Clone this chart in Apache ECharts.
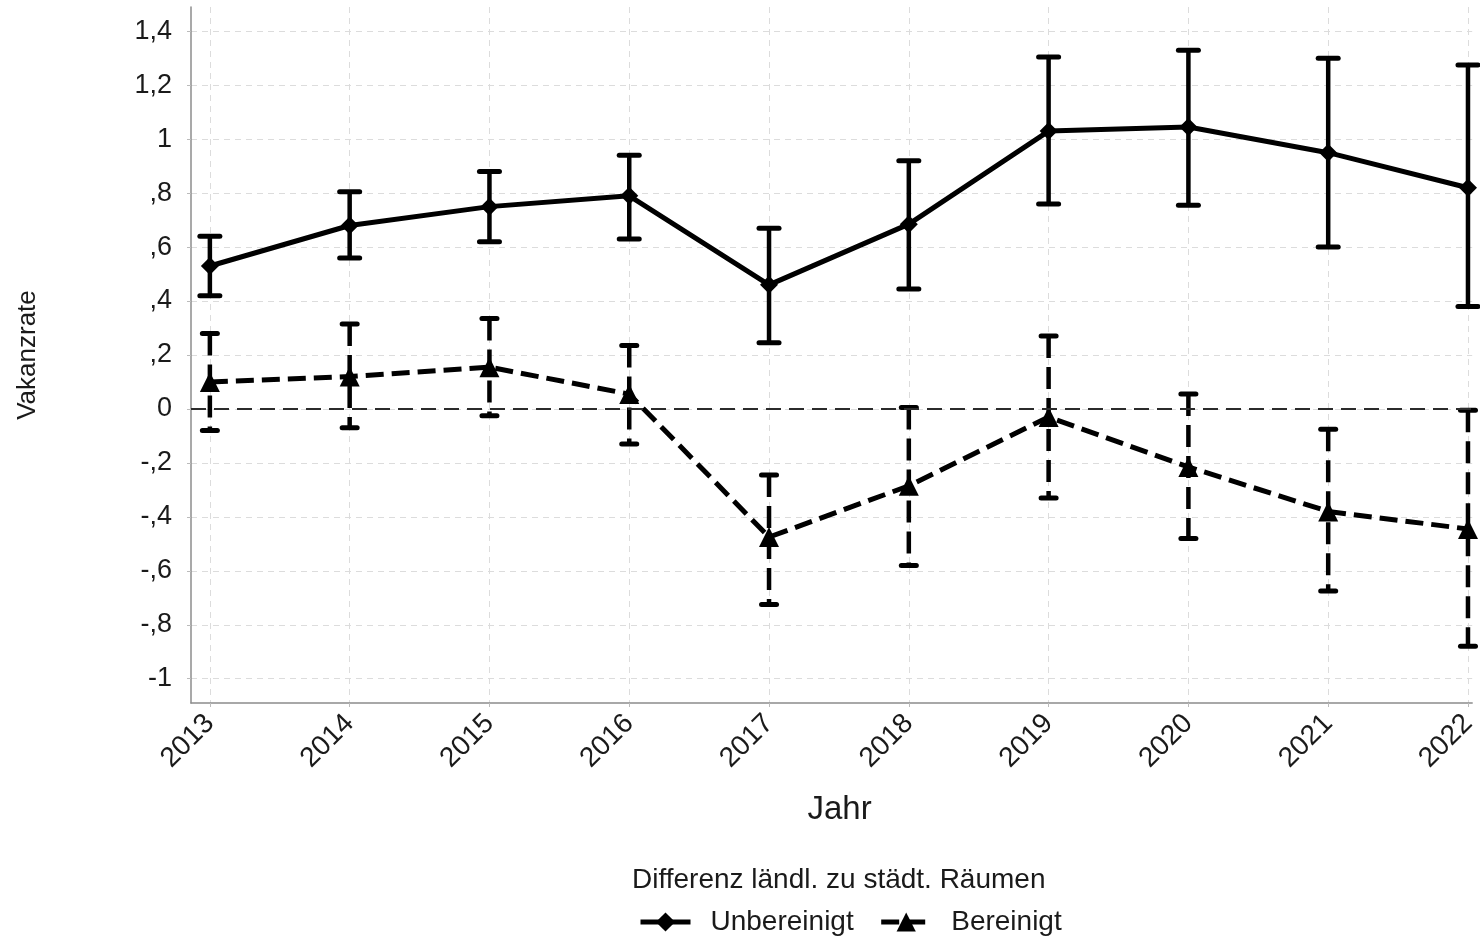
<!DOCTYPE html>
<html>
<head>
<meta charset="utf-8">
<script src="https://cdn.jsdelivr.net/npm/echarts@6/dist/echarts.min.js"></script>
<style>
  html, body { margin: 0; padding: 0; background: #fff; overflow: hidden; }
  #chart { width: 1480px; height: 938px; }
</style>
</head>
<body>
<div id="chart"></div>
<script>
// Years on the x axis
const years = [2013, 2014, 2015, 2016, 2017, 2018, 2019, 2020, 2021, 2022];

// Difference in vacancy rate, rural vs. urban areas (unadjusted)
const unbereinigt     = [0.53, 0.68, 0.75, 0.79, 0.46, 0.685, 1.03, 1.045, 0.95, 0.82];
const unbereinigtLow  = [0.42, 0.56, 0.62, 0.63, 0.245, 0.445, 0.76, 0.755, 0.60, 0.38];
const unbereinigtHigh = [0.64, 0.805, 0.88, 0.94, 0.67, 0.92, 1.305, 1.33, 1.30, 1.275];

// Difference in vacancy rate, rural vs. urban areas (adjusted)
const bereinigt     = [0.10, 0.12, 0.155, 0.055, -0.475, -0.285, -0.03, -0.215, -0.38, -0.445];
const bereinigtLow  = [-0.08, -0.07, -0.025, -0.13, -0.725, -0.58, -0.33, -0.48, -0.675, -0.88];
const bereinigtHigh = [0.28, 0.315, 0.335, 0.235, -0.245, 0.005, 0.27, 0.055, -0.075, -0.005];

// Y tick values and their labels (German decimal style, leading zero dropped)
const yTicks = [-1, -0.8, -0.6, -0.4, -0.2, 0, 0.2, 0.4, 0.6, 0.8, 1, 1.2, 1.4];
const yTickLabels = ['-1', '-,8', '-,6', '-,4', '-,2', '0', ',2', ',4', ',6', ',8', '1', '1,2', '1,4'];

const FONT = 'Liberation Sans, Arial, sans-serif';
const TEXT = '#1a1a1a';

function pairs(xs, ys) { return xs.map((x, i) => [x, ys[i]]); }
function bars(xs, lo, hi) { return xs.map((x, i) => [x, lo[i], hi[i]]); }

// Vertical confidence interval with horizontal caps
function errorBarRenderer(capWidth, dash) {
  return function (params, api) {
    const x = api.value(0);
    const top = api.coord([x, api.value(2)]);
    const bot = api.coord([x, api.value(1)]);
    const style = { stroke: '#000', lineWidth: 4.5, lineDash: dash, lineCap: 'butt' };
    const capStyle = { stroke: '#000', lineWidth: 5, lineCap: 'round' };
    return {
      type: 'group',
      children: [
        { type: 'line', shape: { x1: top[0], y1: top[1], x2: bot[0], y2: bot[1] }, style: style },
        { type: 'line', shape: { x1: top[0] - capWidth / 2, y1: top[1], x2: top[0] + capWidth / 2, y2: top[1] }, style: capStyle },
        { type: 'line', shape: { x1: bot[0] - capWidth / 2, y1: bot[1], x2: bot[0] + capWidth / 2, y2: bot[1] }, style: capStyle }
      ]
    };
  };
}

const chart = echarts.init(document.getElementById('chart'), null, { renderer: 'canvas' });

chart.setOption({
  backgroundColor: '#fff',
  animation: false,
  textStyle: { fontFamily: FONT },
  title: {
    text: 'Differenz ländl. zu städt. Räumen',
    left: 632,
    top: 866,
    padding: 0,
    textStyle: { fontFamily: FONT, fontSize: 28, fontWeight: 'normal', color: TEXT }
  },
  legend: {
    data: ['Unbereinigt', 'Bereinigt'],
    left: 638,
    top: 908,
    padding: 0,
    itemWidth: 50,
    itemHeight: 24,
    itemGap: 25,
    lineStyle: { width: 'inherit' },
    textStyle: { fontFamily: FONT, fontSize: 28, color: TEXT, padding: [0, 0, 0, 15] }
  },
  grid: { left: 191, right: 0, top: 7, bottom: 235, containLabel: false },
  xAxis: {
    type: 'value',
    min: 2012.865,
    max: 2022.03,
    name: 'Jahr',
    nameLocation: 'middle',
    nameGap: 90,
    nameTextStyle: { fontFamily: FONT, fontSize: 33, color: TEXT, padding: [0, 0, 0, 16] },
    axisLine: { show: true, onZero: false, lineStyle: { color: '#8c8c8c', width: 1.5 } },
    axisTick: { show: true, customValues: years, length: 4, lineStyle: { color: '#bbb', width: 1 } },
    axisLabel: {
      customValues: years,
      rotate: 45,
      margin: 16,
      fontFamily: FONT,
      fontSize: 28,
      color: TEXT,
      formatter: v => String(Math.round(v))
    },
    splitLine: { show: true, lineStyle: { color: '#dcdcdc', width: 1, type: [6, 5] } }
  },
  yAxis: {
    type: 'value',
    min: -1.09,
    max: 1.49,
    name: 'Vakanzrate',
    nameLocation: 'middle',
    nameGap: 150,
    nameTextStyle: { fontFamily: FONT, fontSize: 26, color: TEXT },
    axisLine: { show: true, onZero: false, lineStyle: { color: '#8c8c8c', width: 1.5 } },
    axisTick: { show: true, customValues: yTicks, length: 4, lineStyle: { color: '#bbb', width: 1 } },
    axisLabel: {
      customValues: yTicks,
      margin: 19,
      fontFamily: FONT,
      fontSize: 27,
      color: TEXT,
      formatter: v => {
        const i = yTicks.findIndex(t => Math.abs(t - v) < 1e-6);
        return i >= 0 ? yTickLabels[i] : '';
      }
    },
    splitLine: { show: true, lineStyle: { color: '#dcdcdc', width: 1, type: [6, 5] } }
  },
  series: [
    {
      name: 'Unbereinigt-CI',
      type: 'custom',
      renderItem: errorBarRenderer(20, null),
      encode: { x: 0, y: [1, 2] },
      data: bars(years, unbereinigtLow, unbereinigtHigh),
      z: 3,
      silent: true
    },
    {
      name: 'Bereinigt-CI',
      type: 'custom',
      renderItem: errorBarRenderer(15, [22, 9]),
      encode: { x: 0, y: [1, 2] },
      data: bars(years, bereinigtLow, bereinigtHigh),
      z: 3,
      silent: true
    },
    {
      name: 'Unbereinigt',
      type: 'line',
      data: pairs(years, unbereinigt),
      symbol: 'diamond',
      symbolSize: 18,
      itemStyle: { color: '#000' },
      lineStyle: { color: '#000', width: 5 },
      z: 4,
      markLine: {
        silent: true,
        symbol: ['none', 'none'],
        label: { show: false },
        lineStyle: { color: '#2b2b2b', width: 2, type: [15, 8] },
        data: [{ yAxis: 0 }]
      }
    },
    {
      name: 'Bereinigt',
      type: 'line',
      data: pairs(years, bereinigt),
      symbol: 'triangle',
      symbolSize: 20,
      itemStyle: { color: '#000' },
      lineStyle: { color: '#000', width: 5, type: [18, 8] },
      z: 4
    }
  ]
});
</script>
</body>
</html>
